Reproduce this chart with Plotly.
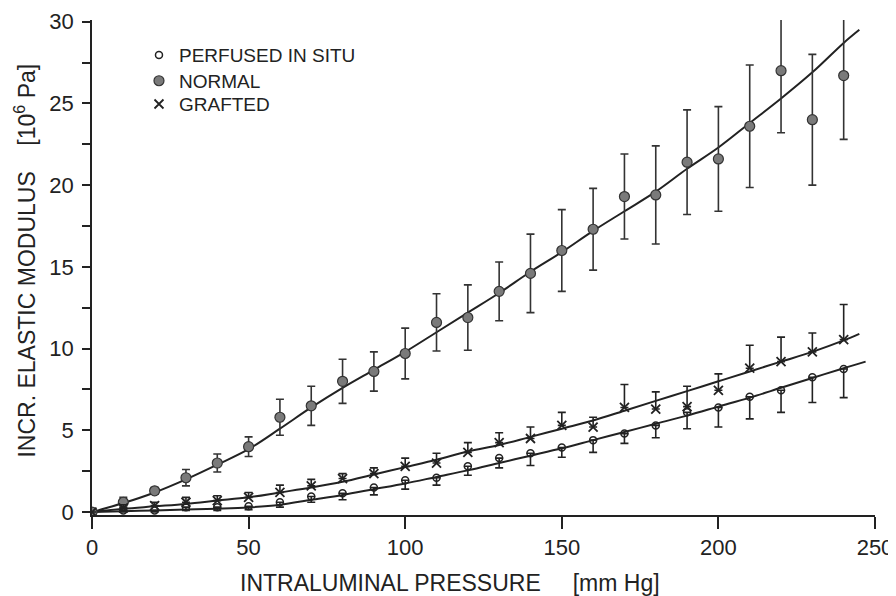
import plotly.graph_objects as go

# ---- data ----
pressure = [0, 10, 20, 30, 40, 50, 60, 70, 80, 90, 100, 110, 120,
            130, 140, 150, 160, 170, 180, 190, 200, 210, 220, 230, 240]

normal_vals = [0, 0.6, 1.3, 2.1, 3.0, 4.0, 5.8, 6.5, 8.0, 8.6, 9.7, 11.6, 11.9,
               13.5, 14.6, 16.0, 17.3, 19.3, 19.4, 21.4, 21.6, 23.6, 27.0, 24.0, 26.7]
normal_err = [0, 0.3, 0.2, 0.5, 0.55, 0.6, 1.1, 1.2, 1.35, 1.2, 1.55, 1.75, 2.0,
              1.8, 2.4, 2.5, 2.5, 2.6, 3.0, 3.2, 3.2, 3.75, 3.8, 4.0, 3.9]

grafted_vals = [0, 0.25, 0.4, 0.6, 0.7, 0.9, 1.2, 1.6, 2.05, 2.35, 2.8, 3.0, 3.65,
                4.25, 4.5, 5.3, 5.2, 6.4, 6.3, 6.45, 7.45, 8.8, 9.2, 9.8, 10.55]
grafted_err_up = [0, 0.2, 0.2, 0.3, 0.3, 0.3, 0.45, 0.4, 0.3, 0.35, 0.5, 0.6, 0.6,
                  0.6, 0.7, 0.8, 0.6, 1.4, 1.05, 1.25, 1.0, 1.4, 1.5, 1.15, 2.15]

perfused_vals = [0, 0.1, 0.1, 0.3, 0.3, 0.35, 0.6, 0.95, 1.15, 1.5, 1.95, 2.1, 2.8,
                 3.3, 3.6, 3.95, 4.4, 4.8, 5.3, 6.1, 6.4, 7.05, 7.45, 8.25, 8.75]
perfused_err_down = [0, 0.1, 0.1, 0.2, 0.2, 0.2, 0.3, 0.35, 0.4, 0.45, 0.55, 0.45, 0.55,
                     0.6, 0.75, 0.6, 0.75, 0.6, 0.75, 1.0, 1.2, 1.35, 1.35, 1.55, 1.75]

# fitted curves
normal_fit_x = [0, 10, 20, 30, 40, 50, 60, 70, 80, 90, 100, 110, 120, 130, 140,
                150, 160, 170, 180, 190, 200, 210, 220, 230, 240, 245]
normal_fit_y = [0, 0.55, 1.2, 2.0, 2.9, 3.85, 5.1, 6.4, 7.6, 8.7, 9.8, 11.0, 12.2, 13.4, 14.7,
                15.9, 17.2, 18.4, 19.6, 21.0, 22.3, 23.8, 25.3, 26.9, 28.7, 29.5]

grafted_fit_x = [0, 10, 20, 30, 40, 50, 60, 70, 80, 90, 100, 110, 120, 130, 140,
                 150, 160, 170, 180, 190, 200, 210, 220, 230, 240, 245]
grafted_fit_y = [0, 0.2, 0.35, 0.5, 0.7, 0.9, 1.2, 1.5, 1.85, 2.3, 2.75, 3.2, 3.7, 4.1, 4.6,
                 5.1, 5.6, 6.2, 6.8, 7.4, 8.0, 8.6, 9.2, 9.8, 10.5, 10.9]

perfused_fit_x = [0, 10, 20, 30, 40, 50, 60, 70, 80, 90, 100, 110, 120, 130, 140,
                  150, 160, 170, 180, 190, 200, 210, 220, 230, 240, 247]
perfused_fit_y = [0, 0.05, 0.1, 0.15, 0.2, 0.28, 0.45, 0.75, 1.05, 1.4, 1.75, 2.15, 2.55, 3.0, 3.45,
                  3.9, 4.4, 4.9, 5.4, 5.9, 6.45, 7.0, 7.6, 8.2, 8.8, 9.2]

x_ticks = [0, 50, 100, 150, 200, 250]
y_ticks = [0, 5, 10, 15, 20, 25, 30]

INK = "#222222"
FONT = "Liberation Sans"

fig = go.Figure()

for fx, fy in [(normal_fit_x, normal_fit_y), (grafted_fit_x, grafted_fit_y),
               (perfused_fit_x, perfused_fit_y)]:
    fig.add_trace(go.Scatter(x=fx, y=fy, mode="lines", line=dict(color=INK, width=2, shape="spline"),
                             showlegend=False, hoverinfo="skip"))

fig.add_trace(go.Scatter(
    x=pressure, y=perfused_vals, mode="markers", name="PERFUSED IN SITU", legend="legend",
    marker=dict(symbol="circle-open", size=7, color=INK, line=dict(width=1.5, color=INK)),
    error_y=dict(type="data", symmetric=False, array=[0] * len(pressure),
                 arrayminus=perfused_err_down, color=INK, thickness=1.6, width=4)))

fig.add_trace(go.Scatter(
    x=pressure, y=normal_vals, mode="markers", name="NORMAL", legend="legend2",
    marker=dict(symbol="circle", size=10, color="#7a7a7a", line=dict(width=1.2, color="#333333")),
    error_y=dict(type="data", array=normal_err, color="#333333", thickness=1.6, width=4)))

fig.add_trace(go.Scatter(
    x=pressure, y=grafted_vals, mode="markers", name="GRAFTED", legend="legend3",
    marker=dict(symbol="x-thin-open", size=9, color=INK, line=dict(width=1.8, color=INK)),
    error_y=dict(type="data", symmetric=False, array=grafted_err_up,
                 arrayminus=[0] * len(pressure), color=INK, thickness=1.6, width=4)))

legend_common = dict(x=0.06, xanchor="left", yanchor="middle",
                     font=dict(family=FONT, size=19, color=INK),
                     bgcolor="rgba(0,0,0,0)", itemwidth=30)

fig.update_layout(
    width=888, height=588,
    margin=dict(l=84, r=21, t=12, b=81),
    paper_bgcolor="white", plot_bgcolor="white",
    font=dict(family=FONT, color=INK, size=22),
    legend=dict(y=0.929, **legend_common),
    legend2=dict(y=0.877, **legend_common),
    legend3=dict(y=0.830, **legend_common),
    xaxis=dict(range=[0, 250], tickvals=x_ticks, ticks="outside", ticklen=12, tickwidth=1.6,
               tickcolor=INK, showline=True, linecolor=INK, linewidth=1.8, showgrid=False,
               zeroline=False, tickfont=dict(size=22), automargin=False,
               ticklabeloverflow="allow"),
    yaxis=dict(range=[-0.18, 30.1], tickvals=y_ticks, ticks="outside", ticklen=8, tickwidth=1.6,
               tickcolor=INK, showline=True, linecolor=INK, linewidth=1.8, showgrid=False,
               zeroline=False, tickfont=dict(size=22), automargin=False,
               ticklabeloverflow="allow", ticklabelstandoff=4,
               minor=dict(dtick=2.5, ticks="outside", ticklen=8, tickwidth=1.6, tickcolor=INK,
                          showgrid=False)),
    annotations=[
        dict(text="INTRALUMINAL PRESSURE&nbsp;&nbsp;&nbsp;&nbsp;&nbsp;[mm Hg]", xref="paper", yref="paper",
             x=0.457, y=-0.137, showarrow=False, font=dict(size=23, family=FONT, color=INK),
             xanchor="center", yanchor="middle"),
        dict(text="INCR. ELASTIC MODULUS&nbsp;&nbsp;&nbsp;&nbsp;[10<sup>6</sup> Pa]", xref="paper", yref="paper",
             x=-0.085, y=0.515, showarrow=False, textangle=-90,
             font=dict(size=23, family=FONT, color=INK), xanchor="center", yanchor="middle"),
    ],
)

fig.write_html("out.html")
